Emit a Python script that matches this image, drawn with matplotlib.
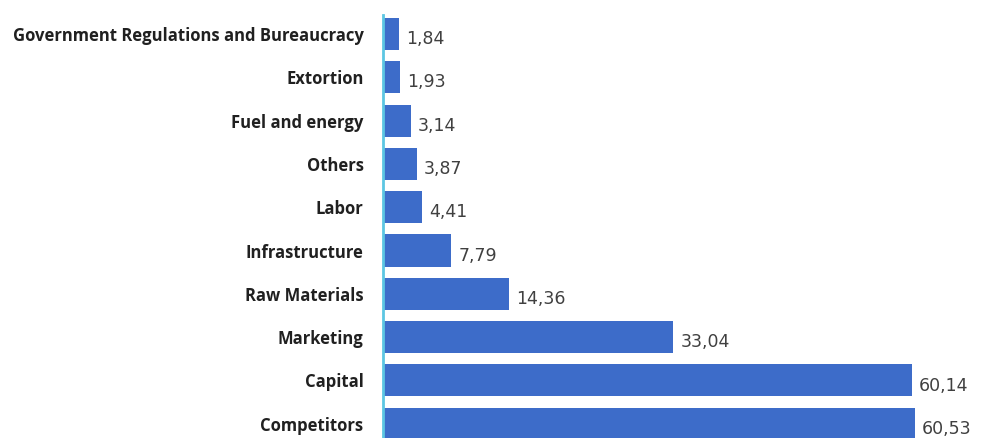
import matplotlib.pyplot as plt

# Obstacles faced by businesses (share of respondents)
categories = [
    "Government Regulations and Bureaucracy",
    "Extortion",
    "Fuel and energy",
    "Others",
    "Labor",
    "Infrastructure",
    "Raw Materials",
    "Marketing",
    "Capital",
    "Competitors",
]
values = [1.84, 1.93, 3.14, 3.87, 4.41, 7.79, 14.36, 33.04, 60.14, 60.53]
value_labels = ["1,84", "1,93", "3,14", "3,87", "4,41", "7,79", "14,36", "33,04", "60,14", "60,53"]

bar_color = "#3d6cc9"
axis_color = "#5cc6e2"

fig = plt.figure(figsize=(9.95, 4.38), dpi=100)
ax = fig.add_axes([383 / 995, 0, 580 / 995, 1])

ypos = list(range(len(categories)))
ax.barh(ypos, values, height=0.74, color=bar_color)

ax.set_xlim(0, 66)
ax.set_ylim(9.33, -0.785)

# value labels just right of each bar
for y, v, lab in zip(ypos, values, value_labels):
    ax.text(v + 0.8, y + 0.12, lab, va="center", ha="left",
            fontsize=12.5, color="#404040", family="DejaVu Sans")

ax.set_yticks(ypos)
ax.set_yticklabels(categories, fontsize=12, fontweight="bold",
                   family="Open Sans", color="#202020")
ax.tick_params(axis="y", length=0, pad=14)
ax.set_xticks([])

for side in ["top", "right", "bottom"]:
    ax.spines[side].set_visible(False)
ax.spines["left"].set_color(axis_color)
ax.spines["left"].set_linewidth(2)
ax.spines["left"].set_bounds(-0.45, 9.33)

fig.savefig("out.png", dpi=100)
plt.close(fig)
